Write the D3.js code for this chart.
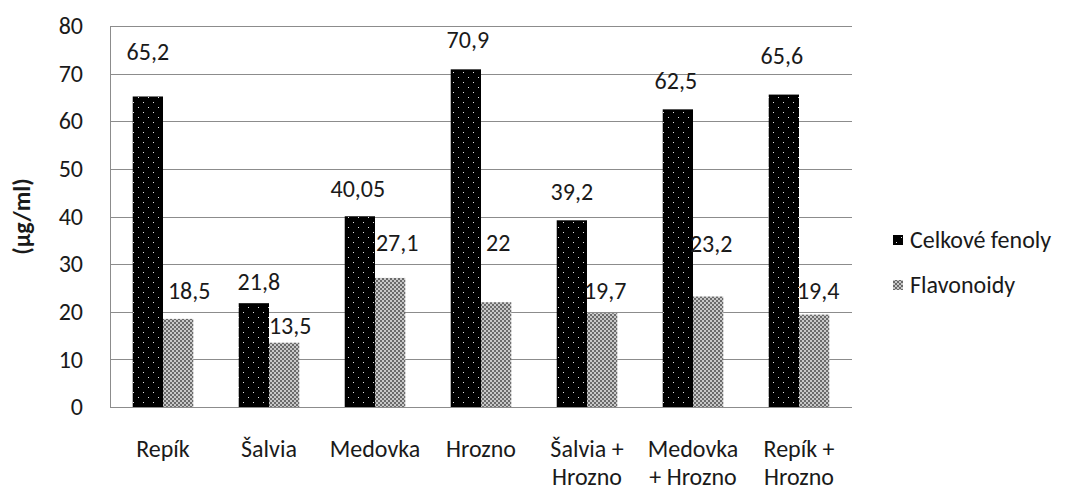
<!DOCTYPE html>
<html>
<head>
<meta charset="utf-8">
<script src="https://cdn.jsdelivr.net/npm/d3@7"></script>
<style>
  html, body { margin: 0; padding: 0; background: #fff; }
  svg text { font-family: Carlito, "Open Sans", Lato, sans-serif; fill: #1a1a1a; }
</style>
</head>
<body>
<svg id="chart" width="1074" height="491"></svg>
<script>
// Samples (a "\n" marks where the axis label wraps)
const categories = ["Repík", "Šalvia", "Medovka", "Hrozno", "Šalvia +\nHrozno", "Medovka\n+ Hrozno", "Repík +\nHrozno"];
const seriesNames = ["Celkové fenoly", "Flavonoidy"];
const celkoveFenoly = [65.2, 21.8, 40.05, 70.9, 39.2, 62.5, 65.6];
const flavonoidy = [18.5, 13.5, 27.1, 22, 19.7, 23.2, 19.4];
const valueLabels = [
  ["65,2", "21,8", "40,05", "70,9", "39,2", "62,5", "65,6"],
  ["18,5", "13,5", "27,1", "22", "19,7", "23,2", "19,4"]
];
const yTicks = [0, 10, 20, 30, 40, 50, 60, 70, 80];
const yTitle = "(µg/ml)";

const FONT = 24;
const svg = d3.select("#chart");
const margin = { left: 110, right: 222, top: 26, bottom: 84 };
const W = 1074, H = 491;
const x0 = margin.left, x1 = W - margin.right;
const yTop = margin.top, yBot = H - margin.bottom;

const x = d3.scaleBand().domain(categories.map((d, i) => i)).range([x0, x1]).paddingInner(0).paddingOuter(0);
const xs = d3.scaleBand().domain([0, 1]).range([0, x.bandwidth()]).paddingInner(0).paddingOuter(0.75);
const y = d3.scaleLinear().domain([0, 80]).range([yBot, yTop]);

// Fill patterns: black with white dots, and a grey checker
const defs = svg.append("defs");
const pDots = defs.append("pattern").attr("id", "dots").attr("patternUnits", "userSpaceOnUse")
  .attr("width", 10).attr("height", 10);
pDots.append("rect").attr("width", 10).attr("height", 10).attr("fill", "#000");
pDots.append("rect").attr("x", 3).attr("y", 2).attr("width", 1).attr("height", 1).attr("fill", "#e6e6e6");
pDots.append("rect").attr("x", 8).attr("y", 7).attr("width", 1).attr("height", 1).attr("fill", "#e6e6e6");

const pCheck = defs.append("pattern").attr("id", "checker").attr("patternUnits", "userSpaceOnUse")
  .attr("width", 4).attr("height", 4);
pCheck.append("rect").attr("width", 4).attr("height", 4).attr("fill", "#c8c8c8");
pCheck.append("rect").attr("width", 2).attr("height", 2).attr("fill", "#6a6a6a");
pCheck.append("rect").attr("x", 2).attr("y", 2).attr("width", 2).attr("height", 2).attr("fill", "#6a6a6a");

const fills = ["url(#dots)", "url(#checker)"];

// Gridlines
svg.append("g").selectAll("line").data(yTicks.filter(t => t > 0)).join("line")
  .attr("x1", x0).attr("x2", x1)
  .attr("y1", d => Math.round(y(d)) + 0.5).attr("y2", d => Math.round(y(d)) + 0.5)
  .attr("stroke", "#8c8c8c").attr("stroke-width", 1);

// Y axis
const yAxis = svg.append("g").attr("transform", `translate(${x0},0)`)
  .call(d3.axisLeft(y).tickValues(yTicks).tickSize(0).tickPadding(27).tickFormat(d3.format("d")));
yAxis.select(".domain").attr("stroke", "#8c8c8c");
yAxis.selectAll("text").attr("font-size", FONT).attr("fill", "#1a1a1a")
  .style("font-family", "Carlito, 'Open Sans', Lato, sans-serif");

// Bars
const seriesData = [celkoveFenoly, flavonoidy];
const bars = svg.append("g");
seriesData.forEach((vals, s) => {
  bars.append("g").selectAll("rect").data(vals).join("rect")
    .attr("x", (d, i) => x(i) + xs(s))
    .attr("width", xs.bandwidth())
    .attr("y", d => y(d))
    .attr("height", d => y(0) - y(d))
    .attr("fill", fills[s]);
});

// Axis lines
svg.append("line").attr("x1", x0).attr("x2", x1)
  .attr("y1", Math.round(yBot) + 0.5).attr("y2", Math.round(yBot) + 0.5)
  .attr("stroke", "#8c8c8c");
svg.append("line").attr("x1", x0 + 0.5).attr("x2", x0 + 0.5)
  .attr("y1", yTop).attr("y2", yBot)
  .attr("stroke", "#8c8c8c");

// Value labels, lifted above each bar (lift and sideways nudge in px)
const labelLift = [
  [36, 13, 19, 21, 20, 20, 31],
  [20, 9, 27, 51, 14, 45, 16]
];
const labelShift = [
  [0, 5, -2, 2, 0, -2, -2],
  [11, 6, 7, 2, 3, 3, 4]
];
seriesData.forEach((vals, s) => {
  svg.append("g").selectAll("text").data(vals).join("text")
    .attr("x", (d, i) => x(i) + xs(s) + xs.bandwidth() / 2 + labelShift[s][i])
    .attr("y", (d, i) => y(d) - labelLift[s][i])
    .attr("text-anchor", "middle")
    .attr("font-size", FONT)
    .text((d, i) => valueLabels[s][i]);
});

// Category labels
const xl = svg.append("g");
categories.forEach((c, i) => {
  const t = xl.append("text").attr("x", x(i) + x.bandwidth() / 2).attr("y", 457)
    .attr("text-anchor", "middle").attr("font-size", FONT);
  c.split("\n").forEach((line, k) => {
    t.append("tspan").attr("x", x(i) + x.bandwidth() / 2).attr("dy", k === 0 ? 0 : 28).text(line);
  });
});

// Y axis title
svg.append("text")
  .attr("transform", `translate(30,${(yTop + yBot) / 2}) rotate(-90)`)
  .attr("text-anchor", "middle")
  .attr("font-size", FONT).attr("font-weight", "bold")
  .text(yTitle);

// Legend
const legend = svg.append("g").attr("transform", "translate(893,240)");
seriesNames.forEach((name, s) => {
  const g = legend.append("g").attr("transform", `translate(0,${s * 45})`);
  g.append("rect").attr("x", 0).attr("y", -5).attr("width", 10).attr("height", 10).attr("fill", fills[s]);
  g.append("text").attr("x", 17).attr("y", 0).attr("dy", "0.35em").attr("font-size", FONT).text(name);
});
</script>
</body>
</html>
